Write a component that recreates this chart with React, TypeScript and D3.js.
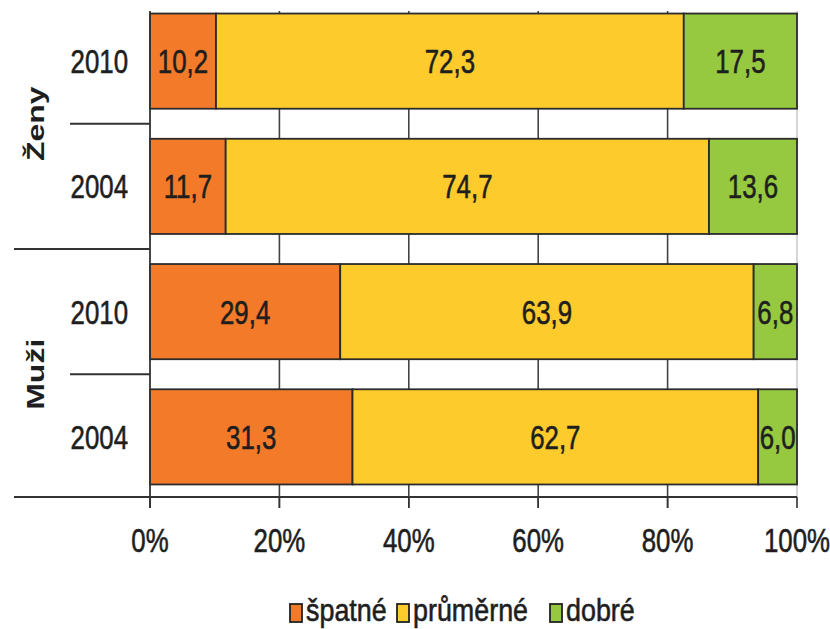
import { useEffect, useRef } from "react";
import * as d3 from "d3";

// rows top to bottom
const groups = ["Ženy", "Ženy", "Muži", "Muži"];
const years = ["2010", "2004", "2010", "2004"];
const spatne = [10.2, 11.7, 29.4, 31.3];
const prumerne = [72.3, 74.7, 63.9, 62.7];
const dobre = [17.5, 13.6, 6.8, 6.0];
const seriesNames = ["špatné", "průměrné", "dobré"];
const seriesColors = ["#f27a29", "#fdcb2b", "#96c840"];
const ticks = [0, 20, 40, 60, 80, 100];

const font = "'Liberation Sans', Arial, sans-serif";
const SX = 0.76; // the source picture is squeezed sideways

export default function App() {
  const svgRef = useRef<SVGSVGElement>(null);

  useEffect(() => {
    document.body.style.margin = "0";
    if (!svgRef.current) return;
    const svg = d3.select(svgRef.current);
    svg.selectAll("*").remove();

    const left = 150;
    const right = 797;
    const top = 1;
    const bottom = 497;

    // narrow, slightly heavy text like in the scan
    const label = (
      px: number,
      py: number,
      str: string,
      anchor = "middle",
      size = 34,
      sx = SX
    ) =>
      svg
        .append("text")
        .attr("transform", `translate(${px},${py}) scale(${sx},1)`)
        .attr("text-anchor", anchor)
        .attr("font-family", font)
        .attr("font-size", size)
        .attr("fill", "#1e1e1e")
        .attr("stroke", "#1e1e1e")
        .attr("stroke-width", 0.6)
        .text(str);

    const rows = years.map((y, i) => ({
      key: String(i),
      year: y,
      group: groups[i],
      "špatné": spatne[i],
      "průměrné": prumerne[i],
      dobré: dobre[i],
    }));

    const x = d3.scaleLinear().domain([0, 100]).range([left, right]);
    const y = d3
      .scaleBand()
      .domain(rows.map((r) => r.key))
      .range([top, bottom])
      .paddingInner(0.24)
      .paddingOuter(0.1);

    const stacked = d3.stack<any>().keys(seriesNames)(rows);

    // gridlines
    ticks.slice(1, -1).forEach((t) => {
      svg
        .append("line")
        .attr("x1", x(t))
        .attr("x2", x(t))
        .attr("y1", top + 10)
        .attr("y2", bottom + 11)
        .attr("stroke", "#444")
        .attr("stroke-width", 1.6);
    });
    // right border
    svg
      .append("line")
      .attr("x1", x(100))
      .attr("x2", x(100))
      .attr("y1", top + 10)
      .attr("y2", bottom)
      .attr("stroke", "#c8c8c8")
      .attr("stroke-width", 1.5);

    // bars
    stacked.forEach((s, si) => {
      svg
        .append("g")
        .selectAll("rect")
        .data(s)
        .join("rect")
        .attr("x", (d) => x(d[0]))
        .attr("y", (d) => y(d.data.key)!)
        .attr("width", (d) => x(Math.min(d[1], 100)) - x(d[0]))
        .attr("height", y.bandwidth())
        .attr("fill", seriesColors[si])
        .attr("stroke", "#2b2b2b")
        .attr("stroke-width", 1.8);

      s.forEach((d) => {
        label(
          (x(d[0]) + x(Math.min(d[1], 100))) / 2,
          y(d.data.key)! + y.bandwidth() / 2 + 12,
          (d[1] - d[0]).toFixed(1).replace(".", ",")
        );
      });
    });

    // y axis line
    svg
      .append("line")
      .attr("x1", left)
      .attr("x2", left)
      .attr("y1", top + 10)
      .attr("y2", bottom + 11)
      .attr("stroke", "#333")
      .attr("stroke-width", 1.8);

    // x axis
    svg
      .append("line")
      .attr("x1", 14)
      .attr("x2", right)
      .attr("y1", bottom)
      .attr("y2", bottom)
      .attr("stroke", "#333")
      .attr("stroke-width", 1.8);

    ticks.forEach((t) => {
      svg
        .append("line")
        .attr("x1", x(t))
        .attr("x2", x(t))
        .attr("y1", bottom)
        .attr("y2", bottom + 11)
        .attr("stroke", "#333")
        .attr("stroke-width", 1.6);
      label(x(t), 552, `${t}%`);
    });

    // year labels
    rows.forEach((r) => {
      label(128, y(r.key)! + y.bandwidth() / 2 + 12, r.year, "end");
    });

    // row separators
    const gap = (y.step() - y.bandwidth()) / 2;
    [1, 3].forEach((i) => {
      const yy = y(String(i))! - gap;
      svg
        .append("line")
        .attr("x1", 70)
        .attr("x2", left)
        .attr("y1", yy)
        .attr("y2", yy)
        .attr("stroke", "#333")
        .attr("stroke-width", 1.8);
    });
    const sepY = y("2")! - gap;
    svg
      .append("line")
      .attr("x1", 14)
      .attr("x2", left)
      .attr("y1", sepY)
      .attr("y2", sepY)
      .attr("stroke", "#333")
      .attr("stroke-width", 1.8);

    // group labels
    const groupCenters = [
      { name: "Ženy", cy: (y("0")! + y("1")! + y.bandwidth()) / 2 },
      { name: "Muži", cy: (y("2")! + y("3")! + y.bandwidth()) / 2 },
    ];
    groupCenters.forEach((g) => {
      svg
        .append("text")
        .attr("transform", `translate(44,${g.cy}) rotate(-90) scale(1,${SX})`)
        .attr("text-anchor", "middle")
        .attr("font-family", font)
        .attr("font-size", 32)
        .attr("font-weight", "bold")
        .attr("fill", "#1e1e1e")
        .text(g.name);
    });

    // legend
    const legendX = [290, 397, 550];
    seriesNames.forEach((n, i) => {
      svg
        .append("rect")
        .attr("x", legendX[i])
        .attr("y", 604)
        .attr("width", 12)
        .attr("height", 18)
        .attr("fill", seriesColors[i])
        .attr("stroke", "#222")
        .attr("stroke-width", 1.8);
      label(legendX[i] + 16, 621, n, "start", 32, 0.84);
    });
  }, []);

  return <svg ref={svgRef} width={830} height={629} style={{ display: "block" }} />;
}
